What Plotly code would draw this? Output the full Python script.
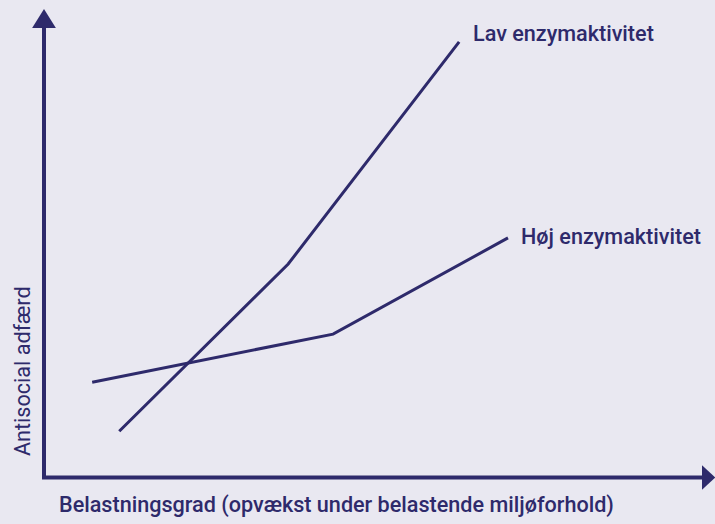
import plotly.graph_objects as go

# Data (arbitrary units, origin at axis crossing)
lav_x = [1.14, 3.70, 6.29]
lav_y = [1.03, 4.75, 9.69]
hoj_x = [0.73, 4.38, 7.03]
hoj_y = [2.12, 3.19, 5.33]
series_names = ["Lav enzymaktivitet", "Høj enzymaktivitet"]
x_title = "Belastningsgrad (opvækst under belastende miljøforhold)"
y_title = "Antisocial adfærd"

W, H = 715, 524
BG = "#e9e8f1"
INK = "#2e2a6b"
FONT = "Roboto"

fig = go.Figure()
fig.add_trace(go.Scatter(x=lav_x, y=lav_y, mode="lines",
                         line=dict(color=INK, width=3), hoverinfo="skip"))
fig.add_trace(go.Scatter(x=hoj_x, y=hoj_y, mode="lines",
                         line=dict(color=INK, width=3), hoverinfo="skip"))

# axes drawn as shapes with arrowheads
shapes = [
    dict(type="line", x0=0, y0=-0.03, x1=0, y1=10.02, xref="x", yref="y",
         line=dict(color=INK, width=4)),
    dict(type="line", x0=-0.03, y0=0, x1=9.99, y1=0, xref="x", yref="y",
         line=dict(color=INK, width=4)),
    dict(type="path", xref="x", yref="y",
         path="M -0.18,10.0 L 0.18,10.0 L 0,10.42 Z",
         fillcolor=INK, line=dict(color=INK, width=0)),
    dict(type="path", xref="x", yref="y",
         path="M 9.97,-0.27 L 9.97,0.27 L 10.17,0 Z",
         fillcolor=INK, line=dict(color=INK, width=0)),
]

lab_font = dict(family=FONT, size=21.6, color=INK, weight=500)
annotations = [
    dict(x=6.47, y=9.87, xref="x", yref="y", text=series_names[0],
         showarrow=False, xanchor="left", yanchor="middle", font=lab_font),
    dict(x=7.19, y=5.37, xref="x", yref="y", text=series_names[1],
         showarrow=False, xanchor="left", yanchor="middle", font=lab_font),
    dict(x=57 / W, y=1 - 505 / H, xref="paper", yref="paper", text=x_title,
         showarrow=False, xanchor="left", yanchor="middle", font=lab_font),
    dict(x=22.5 / W, y=1 - 371.5 / H, xref="paper", yref="paper", text=y_title,
         showarrow=False, xanchor="center", yanchor="middle", textangle=-90,
         font=dict(family=FONT, size=21.6, color=INK)),
]

fig.update_layout(
    width=W, height=H,
    margin=dict(l=0, r=0, t=0, b=0),
    paper_bgcolor=BG, plot_bgcolor=BG,
    showlegend=False,
    shapes=shapes, annotations=annotations,
    xaxis=dict(range=[-44 / 66, (W - 44) / 66], visible=False, fixedrange=True),
    yaxis=dict(range=[(477.5 - H) / 44.95, 477.5 / 44.95], visible=False, fixedrange=True),
)

fig.write_html(
    "out.html",
    config={"displayModeBar": False},
    post_script="document.body.style.margin='0';document.body.style.background='%s';" % BG,
)
